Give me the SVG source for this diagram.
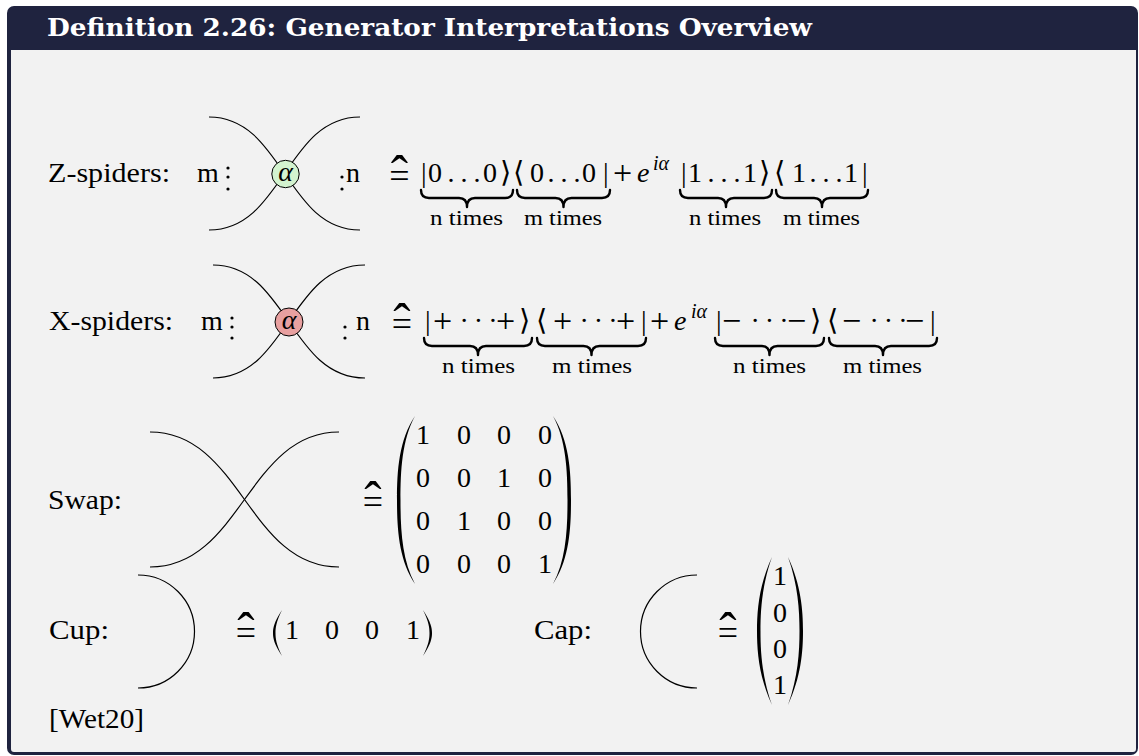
<svg xmlns="http://www.w3.org/2000/svg" width="1139" height="756" viewBox="0 0 1139 756">
<style>
.t{font-family:"Liberation Serif","DejaVu Serif",serif;font-size:28px;fill:#000}
.it{font-style:italic}
.sm{font-size:22px}
.sup{font-size:20px;font-style:italic}
.ang{font-family:"DejaVu Sans","Liberation Serif",sans-serif;font-size:29px}
.op{font-size:34px}
.ctr{text-anchor:middle}
.eqb{font-size:36px}
.hat{font-size:52px}
.w{fill:none;stroke:#000;stroke-width:1.2}
.br{fill:none;stroke:#000;stroke-width:2.4;stroke-linecap:round;stroke-linejoin:round}
.dot{fill:#000}
.par{fill:#000}
</style>

<g id="frame">
  <rect x="7" y="6" width="1131" height="749" rx="7" fill="#1f233f"/>
  <path d="M11,50 H1136 V749 Q1136,752 1133,752 H14 Q11,752 11,749 Z" fill="#f2f2f2"/>
  <text x="47" y="36" font-family="DejaVu Serif, serif" font-weight="bold" font-size="24" fill="#ffffff" textLength="765" lengthAdjust="spacingAndGlyphs">Definition 2.26: Generator Interpretations Overview</text>
</g>

<g id="connectors">
  <path class="w" d="M209,117 C283,117 286,230 360,230"/>
  <path class="w" d="M209,230 C283,230 286,117 360,117"/>
  <path class="w" d="M213,265 C287,265 290,378 365,378"/>
  <path class="w" d="M213,378 C287,378 290,265 365,265"/>
  <path class="w" d="M150,432 C241,432 248,567 339,567"/>
  <path class="w" d="M150,567 C241,567 248,432 339,432"/>
  <path class="w" d="M138,575 A56.5,56.5 0 0 1 138,688"/>
  <path class="w" d="M697,575 A56.5,56.5 0 0 0 697,688"/>
</g>

<g id="z-spider">
  <text class="t" x="48" y="182" textLength="122" lengthAdjust="spacingAndGlyphs">Z-spiders:</text>
  <text class="t" x="197" y="182">m</text>
  <circle class="dot" cx="228" cy="168" r="1.6"/>
  <circle class="dot" cx="228" cy="177" r="1.6"/>
  <circle class="dot" cx="228" cy="189" r="1.6"/>
  <circle class="dot" cx="342" cy="177" r="1.6"/>
  <circle class="dot" cx="342" cy="189" r="1.6"/>
  <text class="t" x="346" y="182">n</text>
  <circle cx="285.5" cy="174" r="13.7" fill="#d3f3cf" stroke="#000" stroke-width="1"/>
  <text class="t it ctr" x="285.5" y="181" font-size="24">α</text>
</g>

<g id="z-equation" opacity="0.995">
  <text class="t ctr"><tspan class="eqb" x="399.5" y="188">=</tspan><tspan class="hat" x="399.5" y="192">ˆ</tspan></text>
  <text class="t" y="182"><tspan x="421">|</tspan><tspan x="428">0</tspan><tspan x="447.5" letter-spacing="6">...</tspan><tspan x="483">0</tspan><tspan class="ang" x="500">⟩</tspan><tspan class="ang" x="513">⟨</tspan><tspan x="530">0</tspan><tspan x="547.5" letter-spacing="6">...</tspan><tspan x="582">0</tspan><tspan x="603">|</tspan><tspan class="op" x="613" dy="2">+</tspan><tspan class="it" x="637" dy="-2">e</tspan><tspan class="sup" x="653" dy="-12">iα</tspan><tspan x="681" dy="12">|</tspan><tspan x="688">1</tspan><tspan x="707.5" letter-spacing="6">...</tspan><tspan x="743">1</tspan><tspan class="ang" x="759">⟩</tspan><tspan class="ang" x="774">⟨</tspan><tspan x="792">1</tspan><tspan x="809.5" letter-spacing="6">...</tspan><tspan x="844">1</tspan><tspan x="862">|</tspan></text>
  <path class="br" d="M421,190 Q421,198 429,198 L459,198 Q467,198 467,207 Q467,198 475,198 L505,198 Q513,198 513,190"/>
  <path class="br" d="M517,190 Q517,198 525,198 L555.5,198 Q563.5,198 563.5,207 Q563.5,198 571.5,198 L602,198 Q610,198 610,190"/>
  <path class="br" d="M680,190 Q680,198 688,198 L718,198 Q726,198 726,207 Q726,198 734,198 L764,198 Q772,198 772,190"/>
  <path class="br" d="M776,190 Q776,198 784,198 L814,198 Q822,198 822,207 Q822,198 830,198 L860,198 Q868,198 868,190"/>
  <text class="t sm" y="225"><tspan x="430" textLength="73" lengthAdjust="spacingAndGlyphs">n times</tspan><tspan x="524" textLength="78" lengthAdjust="spacingAndGlyphs">m times</tspan><tspan x="689" textLength="72" lengthAdjust="spacingAndGlyphs">n times</tspan><tspan x="783" textLength="77" lengthAdjust="spacingAndGlyphs">m times</tspan></text>
</g>

<g id="x-spider">
  <text class="t" x="49" y="330" textLength="124" lengthAdjust="spacingAndGlyphs">X-spiders:</text>
  <text class="t" x="201" y="330">m</text>
  <circle class="dot" cx="232" cy="318" r="1.6"/>
  <circle class="dot" cx="232" cy="327" r="1.6"/>
  <circle class="dot" cx="232" cy="338" r="1.6"/>
  <circle class="dot" cx="345" cy="327" r="1.6"/>
  <circle class="dot" cx="345" cy="338" r="1.6"/>
  <text class="t" x="356" y="330">n</text>
  <circle cx="289" cy="322" r="14" fill="#e8a0a0" stroke="#000" stroke-width="1"/>
  <text class="t it ctr" x="289" y="329" font-size="24">α</text>
</g>

<g id="x-equation" opacity="0.995">
  <text class="t ctr"><tspan class="eqb" x="402" y="336">=</tspan><tspan class="hat" x="402" y="340">ˆ</tspan></text>
  <text class="t" y="330"><tspan x="425">|</tspan><tspan class="op" x="433" dy="2">+</tspan><tspan x="459.5" dy="-2" letter-spacing="5">···</tspan><tspan class="op" x="496" dy="2">+</tspan><tspan class="ang" x="519" dy="-2">⟩</tspan><tspan class="ang" x="536">⟨</tspan><tspan class="op" x="553" dy="2">+</tspan><tspan x="579.5" dy="-2" letter-spacing="5">···</tspan><tspan class="op" x="616" dy="2">+</tspan><tspan x="641" dy="-2">|</tspan><tspan class="op" x="650" dy="2">+</tspan><tspan class="it" x="674" dy="-2">e</tspan><tspan class="sup" x="691" dy="-12">iα</tspan><tspan x="716" dy="12">|</tspan><tspan class="op" x="722" dy="2">−</tspan><tspan x="750.5" dy="-2" letter-spacing="5">···</tspan><tspan class="op" x="787" dy="2">−</tspan><tspan class="ang" x="810" dy="-2">⟩</tspan><tspan class="ang" x="827">⟨</tspan><tspan class="op" x="842" dy="2">−</tspan><tspan x="869.5" dy="-2" letter-spacing="5">···</tspan><tspan class="op" x="905" dy="2">−</tspan><tspan x="930" dy="-2">|</tspan></text>
  <path class="br" d="M424,338 Q424,346 432,346 L470,346 Q478,346 478,355 Q478,346 486,346 L524,346 Q532,346 532,338"/>
  <path class="br" d="M537,338 Q537,346 545,346 L583.5,346 Q591.5,346 591.5,355 Q591.5,346 599.5,346 L638,346 Q646,346 646,338"/>
  <path class="br" d="M715,338 Q715,346 723,346 L761.5,346 Q769.5,346 769.5,355 Q769.5,346 777.5,346 L816,346 Q824,346 824,338"/>
  <path class="br" d="M829,338 Q829,346 837,346 L875,346 Q883,346 883,355 Q883,346 891,346 L929,346 Q937,346 937,338"/>
  <text class="t sm" y="373"><tspan x="442" textLength="73" lengthAdjust="spacingAndGlyphs">n times</tspan><tspan x="552" textLength="80" lengthAdjust="spacingAndGlyphs">m times</tspan><tspan x="733" textLength="73" lengthAdjust="spacingAndGlyphs">n times</tspan><tspan x="843" textLength="79" lengthAdjust="spacingAndGlyphs">m times</tspan></text>
</g>

<g id="swap">
  <text class="t" x="48" y="509" textLength="74" lengthAdjust="spacingAndGlyphs">Swap:</text>
  <text class="t ctr"><tspan class="eqb" x="373" y="514">=</tspan><tspan class="hat" x="373" y="518">ˆ</tspan></text>
  <path class="par" d="M415,416 C399,440 397,470 397,500 C397,530 399,560 415,584 C402,560 400.5,530 400.5,500 C400.5,470 402,440 415,416 Z"/>
  <path class="par" d="M553,416 C569,440 571,470 571,500 C571,530 569,560 553,584 C566,560 567.5,530 567.5,500 C567.5,470 566,440 553,416 Z"/>
  <text class="t ctr"><tspan y="444" x="423 464 504 545">1000</tspan><tspan y="487" x="423 464 504 545">0010</tspan><tspan y="530" x="423 464 504 545">0100</tspan><tspan y="573" x="423 464 504 545">0001</tspan></text>
</g>

<g id="cup">
  <text class="t" x="49" y="639" textLength="60" lengthAdjust="spacingAndGlyphs">Cup:</text>
  <text class="t ctr"><tspan class="eqb" x="246" y="645">=</tspan><tspan class="hat" x="246" y="649">ˆ</tspan></text>
  <path class="par" d="M282,610 C274,622 273,628 273,633 C273,638 274,644 282,656 C276,644 275.5,638 275.5,633 C275.5,628 276,622 282,610 Z"/>
  <path class="par" d="M423,610 C431,622 432,628 432,633 C432,638 431,644 423,656 C429,644 429.5,638 429.5,633 C429.5,628 429,622 423,610 Z"/>
  <text class="t ctr" y="639" x="292 332 372 413">1001</text>
</g>

<g id="cap">
  <text class="t" x="534" y="639" textLength="58" lengthAdjust="spacingAndGlyphs">Cap:</text>
  <text class="t ctr"><tspan class="eqb" x="728" y="645">=</tspan><tspan class="hat" x="728" y="649">ˆ</tspan></text>
  <path class="par" d="M772,557 C759,585 757,610 757,631 C757,652 759,677 772,705 C762,677 760.5,652 760.5,631 C760.5,610 762,585 772,557 Z"/>
  <path class="par" d="M788,557 C801,585 803,610 803,631 C803,652 801,677 788,705 C798,677 799.5,652 799.5,631 C799.5,610 798,585 788,557 Z"/>
  <text class="t ctr"><tspan x="780" y="585">1</tspan><tspan x="780" y="622">0</tspan><tspan x="780" y="658">0</tspan><tspan x="780" y="694">1</tspan></text>
</g>

<g id="citation">
  <text class="t" x="49" y="728" textLength="95" lengthAdjust="spacingAndGlyphs">[Wet20]</text>
</g>
</svg>
